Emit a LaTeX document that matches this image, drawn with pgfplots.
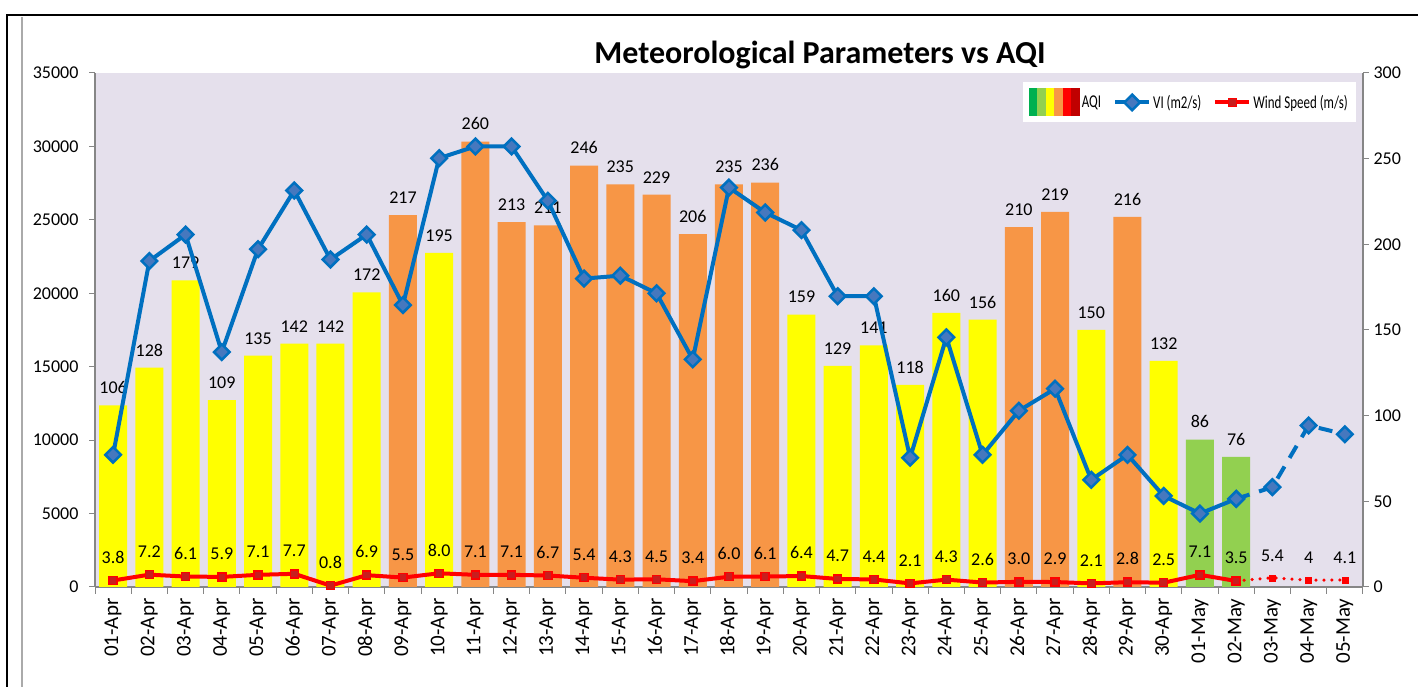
\documentclass[border=0pt]{standalone}
\usepackage{pgfplots}
\pgfplotsset{compat=1.18}
\usepackage{graphicx}
\usepackage{fontspec}
\setmainfont{Carlito}
\definecolor{lav}{RGB}{229,224,236}
\definecolor{aqiY}{RGB}{255,255,0}
\definecolor{aqiO}{RGB}{247,150,70}
\definecolor{aqiG}{RGB}{146,208,80}
\definecolor{aqiDG}{RGB}{0,176,80}
\definecolor{aqiR}{RGB}{255,0,0}
\definecolor{aqiDR}{RGB}{192,0,0}
\definecolor{viblue}{RGB}{0,112,192}
\definecolor{vifill}{RGB}{70,120,190}
\definecolor{axgray}{RGB}{134,134,134}
\definecolor{wsfill}{RGB}{200,30,30}
\pgfplotsset{
  viline/.style={color=viblue, line width=4pt, mark=square*, mark size=5.5pt,
    mark options={rotate=45, fill=vifill, draw=viblue, line width=2.5pt, solid}},
  wsline/.style={color=aqiR, line width=4pt, mark=square*, mark size=4pt,
    mark options={fill=wsfill, draw=aqiR, line width=1.5pt, solid}},
  longleg/.style={legend image code/.code={\draw[mark repeat=2,mark phase=2,##1] plot coordinates {(0pt,0pt)(17pt,0pt)(34pt,0pt)};}},
  common/.style={
    at={(95pt,100pt)}, anchor=south west, scale only axis,
    width=1268pt, height=514pt,
    xmin=-0.5, xmax=34.5,
    /pgf/number format/assume math mode=true,
    /pgf/number format/1000 sep={},
    scaled y ticks=false,
    tick align=outside,
    major tick length=6pt, minor tick length=7pt,
    tick style={axgray, line width=1pt},
    axis line style={axgray, line width=1.2pt},
    ticklabel style={font=\fontsize{18}{18}\selectfont},
  }
}
\begin{document}
\begin{tikzpicture}[x=1pt,y=1pt]
\path[use as bounding box] (0,0) rectangle (1418,687);
\fill[white] (0,0) rectangle (1418,687);
\draw[black,line width=2pt] (7,0) -- (7,672) -- (1418,672);
\draw[axgray!70,line width=1.5pt] (22,0) -- (22,670);
\node[anchor=base, font=\fontsize{32}{32}\selectfont\bfseries] at (820,623) {Meteorological Parameters vs AQI};

% right axis: AQI bars and wind speed
\begin{axis}[common,
  ymin=0, ymax=300,
  axis y line*=right, axis x line*=bottom,
  axis background/.style={fill=lav},
  ytick={0,50,...,300},
  yticklabel style={anchor=west, xshift=1pt},
  xtick={0,...,34},
  xticklabels={01-Apr,02-Apr,03-Apr,04-Apr,05-Apr,06-Apr,07-Apr,08-Apr,09-Apr,10-Apr,11-Apr,12-Apr,13-Apr,14-Apr,15-Apr,16-Apr,17-Apr,18-Apr,19-Apr,20-Apr,21-Apr,22-Apr,23-Apr,24-Apr,25-Apr,26-Apr,27-Apr,28-Apr,29-Apr,30-Apr,01-May,02-May,03-May,04-May,05-May},
  x tick label style={yshift=-2pt, rotate=90, anchor=east, font=\fontsize{21}{21}\selectfont},
  major x tick style={draw=none},
  minor xtick={-0.5,0.5,...,34.5},
  legend columns=3,
  legend style={at={(0.9945,0.982)}, anchor=north east, fill=white, draw=none,
    font=\fontsize{18}{18}\selectfont, inner xsep=6pt, inner ysep=6pt,
    /tikz/every even column/.append style={column sep=10pt}},
  legend cell align=left,
  clip=false,
]
\addplot[ybar, bar width=28pt, bar shift=0pt, fill=aqiY, draw=none,
  nodes near coords, nodes near coords style={font=\fontsize{18}{18}\selectfont, text=black, yshift=8pt, /pgf/number format/fixed, /pgf/number format/precision=0},
  legend image code/.code={
    \fill[aqiDG] (0pt,-14pt) rectangle (8.5pt,14pt);
    \fill[aqiG] (8.5pt,-14pt) rectangle (17pt,14pt);
    \fill[aqiY] (17pt,-14pt) rectangle (25.5pt,14pt);
    \fill[aqiO] (25.5pt,-14pt) rectangle (34pt,14pt);
    \fill[aqiR] (34pt,-14pt) rectangle (42.5pt,14pt);
    \fill[aqiDR] (42.5pt,-14pt) rectangle (51pt,14pt);
  }]
 coordinates {(0,106)(1,128)(2,179)(3,109)(4,135)(5,142)(6,142)(7,172)(9,195)(19,159)(20,129)(21,141)(22,118)(23,160)(24,156)(27,150)(29,132)};
\addlegendentry{\scalebox{0.72}[1]{AQI}}
\addplot[ybar, bar width=28pt, bar shift=0pt, fill=aqiO, draw=none, forget plot,
  nodes near coords, nodes near coords style={font=\fontsize{18}{18}\selectfont, text=black, yshift=8pt, /pgf/number format/fixed, /pgf/number format/precision=0}]
 coordinates {(8,217)(10,260)(11,213)(12,211)(13,246)(14,235)(15,229)(16,206)(17,235)(18,236)(25,210)(26,219)(28,216)};
\addplot[ybar, bar width=28pt, bar shift=0pt, fill=aqiG, draw=none, forget plot,
  nodes near coords, nodes near coords style={font=\fontsize{18}{18}\selectfont, text=black, yshift=8pt, /pgf/number format/fixed, /pgf/number format/precision=0}]
 coordinates {(30,86)(31,76)};
\addlegendimage{viline, longleg}
\addlegendentry{\scalebox{0.72}[1]{VI (m2/s)}}
\addplot[wsline, longleg, point meta=explicit symbolic,
  nodes near coords, nodes near coords style={font=\fontsize{18}{18}\selectfont, text=black, yshift=13pt}]
 table[meta=lab] {
x y lab
0 3.8 3.8
1 7.2 7.2
2 6.1 6.1
3 5.9 5.9
4 7.1 7.1
5 7.7 7.7
6 0.8 0.8
7 6.9 6.9
8 5.5 5.5
9 8.0 8.0
10 7.1 7.1
11 7.1 7.1
12 6.7 6.7
13 5.4 5.4
14 4.3 4.3
15 4.5 4.5
16 3.4 3.4
17 6.0 6.0
18 6.1 6.1
19 6.4 6.4
20 4.7 4.7
21 4.4 4.4
22 2.1 2.1
23 4.3 4.3
24 2.6 2.6
25 3.0 3.0
26 2.9 2.9
27 2.1 2.1
28 2.8 2.8
29 2.5 2.5
30 7.1 7.1
31 3.5 3.5
};
\addlegendentry{\scalebox{0.72}[1]{Wind Speed (m/s)}}
\addplot[aqiR, line width=3.5pt, line cap=round, dash pattern=on 0pt off 8pt, forget plot]
 coordinates {(31,3.5)(32,5.4)(33,4)(34,4.1)};
\addplot[only marks, mark=square*, mark size=3pt, mark options={fill=aqiR, draw=aqiR}, forget plot,
  point meta=explicit symbolic,
  nodes near coords, nodes near coords style={font=\fontsize{18}{18}\selectfont, text=black, yshift=13pt}]
 table[meta=lab] {
x y lab
32 5.4 5.4
33 4 4
34 4.1 4.1
};
\end{axis}

% left axis: VI
\begin{axis}[common,
  ymin=0, ymax=35000,
  axis y line*=left, axis x line=none,
  ytick={0,5000,...,35000},
  yticklabel style={xshift=-7pt},
  xtick=\empty,
  clip=false,
]
\addplot[viline] coordinates {(0,9000)(1,22200)(2,24000)(3,16000)(4,23000)(5,27000)(6,22300)(7,24000)(8,19200)(9,29200)(10,30000)(11,30000)(12,26300)(13,21000)(14,21200)(15,20000)(16,15500)(17,27200)(18,25500)(19,24300)(20,19800)(21,19800)(22,8800)(23,17000)(24,9000)(25,12000)(26,13500)(27,7300)(28,9000)(29,6200)(30,5000)(31,6000)};
\addplot[viline, dash pattern=on 14pt off 10pt] coordinates {(31,6000)(32,6800)(33,11000)(34,10400)};
\end{axis}
\end{tikzpicture}
\end{document}
